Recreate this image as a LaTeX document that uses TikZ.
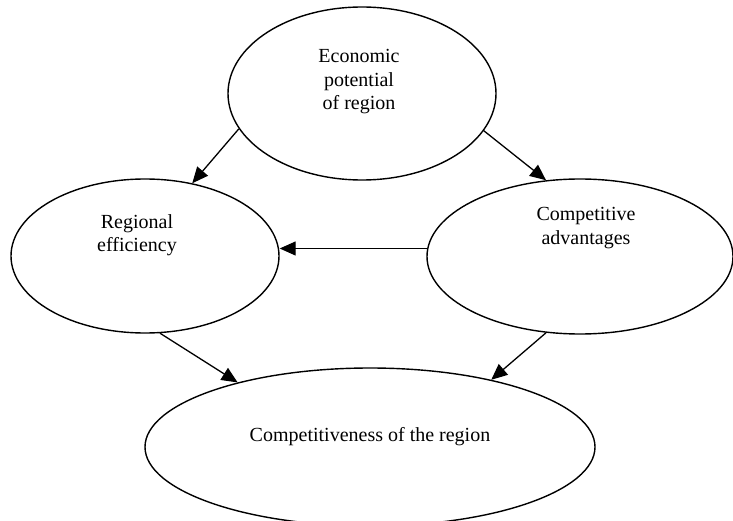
\documentclass[tikz,border=0pt]{standalone}
\usepackage{fontspec}
\setmainfont{Liberation Serif}
\usetikzlibrary{shapes.geometric,arrows.meta}
\begin{document}
\begin{tikzpicture}[x=1pt,y=-1pt,
  oval/.style={draw,ellipse,line width=1.4pt,inner sep=0pt},
  lbl/.style={align=center,inner sep=0pt,font=\fontsize{20}{23.5}\selectfont},
  conn/.style={line width=1.3pt,-{Triangle[length=16pt,width=14pt]}}]
\useasboundingbox (0,0) rectangle (733,521);
\node[oval,minimum width=268pt,minimum height=173pt] (eco) at (362,93.5) {};
\node[oval,minimum width=268pt,minimum height=154pt] (reg) at (145,256) {};
\node[oval,minimum width=306pt,minimum height=155pt] (comp) at (580,256.5) {};
\node[oval,minimum width=450pt,minimum height=158pt] (cr) at (370,447) {};
\node[lbl] (ecot) at (359,82) {Economic\\potential\\of region};
\node[lbl] (regt) at (137,235) {Regional\\efficiency};
\node[lbl] (compt) at (586,228) {Competitive\\advantages};
\node[lbl] (crt) at (370,437) {Competitiveness of the region};
\draw[conn] (eco.196) -- (reg.57);
\draw[conn] (eco.343) -- (comp.114);
\draw[conn] (comp.177) -- (reg.east |- comp.177);
\draw[conn] (reg.281) -- (cr.154);
\draw[conn] (comp.246) -- (cr.29);
\end{tikzpicture}
\end{document}
